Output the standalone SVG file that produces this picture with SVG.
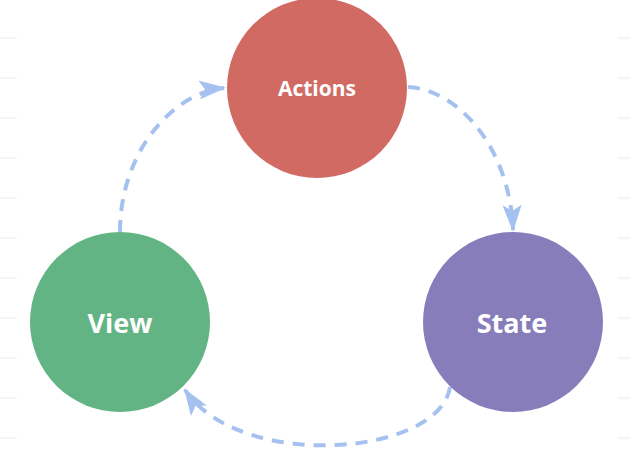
<svg xmlns="http://www.w3.org/2000/svg" width="630" height="456" viewBox="0 0 630 456">
<style>
.rule{stroke:#ebebeb;stroke-width:1}
.conn{fill:none;stroke:#a5c1f0;stroke-width:4;stroke-dasharray:12 9}
.lbl{font-family:"Open Sans","Noto Sans",sans-serif;font-weight:bold;fill:#ffffff;text-anchor:middle}
</style>
<defs>
<marker id="ah" viewBox="0 0 27 19" refX="25" refY="9.5" markerWidth="27" markerHeight="19" markerUnits="userSpaceOnUse" orient="auto">
<path d="M0,0 L27,9.5 L0,19 L6,9.5 Z" fill="#a5c1f0"/>
</marker>
</defs>
<rect width="630" height="456" fill="#ffffff"/>
<g id="rules">
<path class="rule" d="M0,38H17M0,78H17M0,118H17M0,158H17M0,198H17M0,238H17M0,278H17M0,318H17M0,358H17M0,398H17M0,438H17"/>
<path class="rule" d="M618,38H630M618,78H630M618,118H630M618,158H630M618,198H630M618,238H630M618,278H630M618,318H630M618,358H630M618,398H630M618,438H630"/>
</g>
<g id="connectors">
<path class="conn" d="M120,232 C120,150 175,92 224,88" marker-end="url(#ah)"/>
<path class="conn" d="M408,87 C460,90 510,150 513,230" marker-end="url(#ah)"/>
<path class="conn" d="M450,387 C440,456 240,472 185,390" marker-end="url(#ah)"/>
</g>
<g id="actions">
<circle cx="317" cy="88" r="90" fill="#d16a63"/>
<text class="lbl" x="317" y="96" font-size="21">Actions</text>
</g>
<g id="view">
<circle cx="120" cy="322" r="90" fill="#62b485"/>
<text class="lbl" x="120" y="333" font-size="27">View</text>
</g>
<g id="state">
<circle cx="513" cy="322" r="90" fill="#877dbb"/>
<text class="lbl" x="512" y="333" font-size="27">State</text>
</g>
</svg>
